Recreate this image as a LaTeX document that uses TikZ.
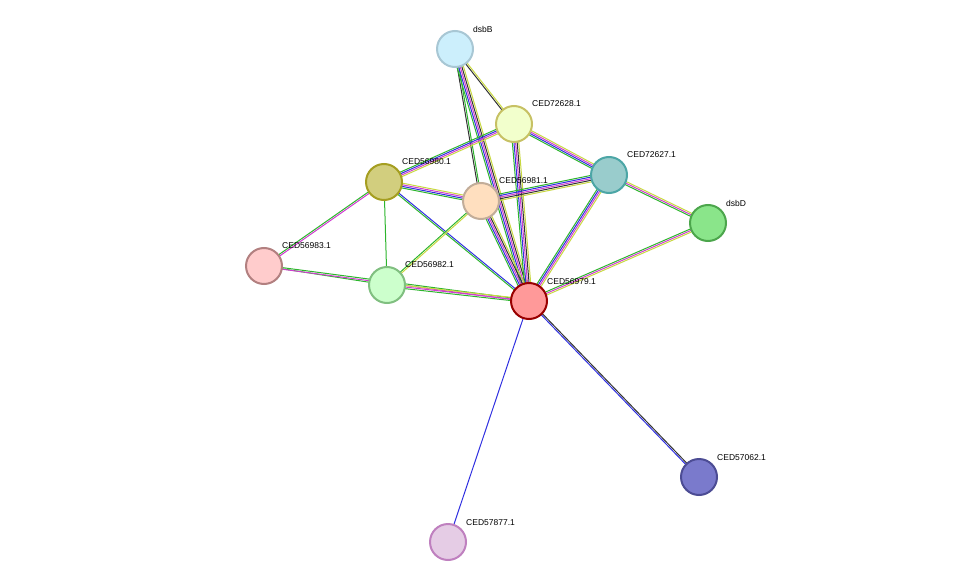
\documentclass[tikz,border=0pt]{standalone}
\usepackage{fontspec}
\setmainfont{Liberation Sans}
\usetikzlibrary{calc}
\definecolor{eg}{HTML}{2DB52D}\definecolor{eb}{HTML}{3030E0}\definecolor{em}{HTML}{D03CD0}
\definecolor{ey}{HTML}{C8D840}\definecolor{ek}{HTML}{333333}
\tikzset{prot/.style={circle,minimum size=36pt,inner sep=0pt,line width=2pt},
lab/.style={font=\fontsize{8.5}{10}\selectfont,anchor=south west,inner sep=1pt}}
\newcommand\medge[3]{%
 \foreach \c [count=\i] in {#3}{\xdef\nn{\i}}%
 \foreach \c [count=\i] in {#3}{%
  \pgfmathsetmacro\off{(\i-(\nn+1)/2)*1.6}%
  \draw[color=\c,line width=1pt] ($(#1)!\off pt!90:(#2)$) -- ($(#2)!\off pt!-90:(#1)$);}}
\begin{document}
\begin{tikzpicture}[x=1pt,y=-1pt]
\useasboundingbox (0,0) rectangle (976,588);
\coordinate (dsbB) at (455,49);
\coordinate (c628) at (514,124);
\coordinate (c627) at (609,175);
\coordinate (dsbD) at (708,223);
\coordinate (c980) at (384,182);
\coordinate (c981) at (481,201);
\coordinate (c983) at (264,266);
\coordinate (c982) at (387,285);
\coordinate (c979) at (529,301);
\coordinate (c062) at (699,477);
\coordinate (c877) at (448,542);
\medge{dsbB}{c628}{ek,ey}
\medge{dsbB}{c981}{ek,eg}
\medge{dsbB}{c979}{eg,eb,em,ek,ey}
\medge{c628}{c980}{eg,eb,em,ey}
\medge{c628}{c627}{eg,eb,em,ey}
\medge{c628}{c979}{eg,eb,em,ek,ey}
\medge{c627}{dsbD}{eg,em,ey}
\medge{c627}{c981}{eg,eb,em,ek,ey}
\medge{c627}{c979}{eg,eb,em,ey}
\medge{dsbD}{c979}{eg,em,ey}
\medge{c980}{c981}{eg,eb,em,ey}
\medge{c980}{c983}{eg,em}
\medge{c980}{c982}{eg}
\medge{c980}{c979}{eg,eb}
\medge{c981}{c982}{eg,ey}
\medge{c981}{c979}{eg,eb,em,ek,ey}
\medge{c983}{c982}{eg}
\medge{c983}{c979}{em,eg}
\medge{c982}{c979}{eg,em,ey}
\medge{c979}{c062}{eb,ek}
\medge{c979}{c877}{eb}
\node[prot,draw=black!45!cyan!40,fill=cyan!20!white] (n1) at (dsbB) {};
\node[prot,draw=olive!50,fill=lime!20!white] (n2) at (c628) {};
\node[prot,draw=teal!70,fill=teal!40!white] (n3) at (c627) {};
\node[prot,draw=green!50!black!70,fill=green!40!white!90!black] (n4) at (dsbD) {};
\node[prot,draw=olive!80,fill=olive!40!white] (n5) at (c980) {};
\node[prot,draw=orange!40!black!40,fill=orange!25!white] (n6) at (c981) {};
\node[prot,draw=red!40!black!50,fill=red!20!white] (n7) at (c983) {};
\node[prot,draw=green!50!black!50,fill=green!20!white] (n8) at (c982) {};
\node[prot,draw=red!60!black,fill=red!40!white] (n9) at (c979) {};
\node[prot,draw=blue!40!black!70,fill=blue!40!white!80!black] (n10) at (c062) {};
\node[prot,draw=violet!50,fill=violet!20!white] (n11) at (c877) {};
\node[lab] at (472,34) {dsbB};
\node[lab] at (531,108) {CED72628.1};
\node[lab] at (626,159) {CED72627.1};
\node[lab] at (725,208) {dsbD};
\node[lab] at (401,166) {CED56980.1};
\node[lab] at (498,185) {CED56981.1};
\node[lab] at (281,250) {CED56983.1};
\node[lab] at (404,269) {CED56982.1};
\node[lab] at (546,286) {CED56979.1};
\node[lab] at (716,462) {CED57062.1};
\node[lab] at (465,527) {CED57877.1};
\end{tikzpicture}
\end{document}
